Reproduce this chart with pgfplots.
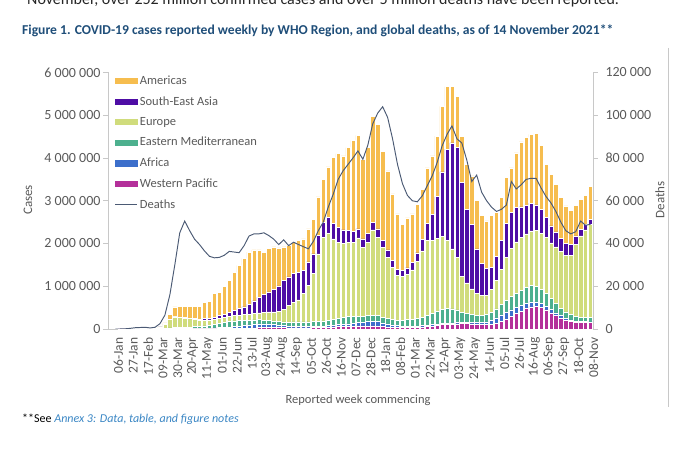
\documentclass[border=0pt]{standalone}
\usepackage{fontspec}
\setmainfont{Carlito}
\usepackage{pgfplots}
\pgfplotsset{compat=1.18}
\usepackage{pgfplotstable}
\definecolor{amr}{HTML}{F6BD4F}
\definecolor{sear}{HTML}{4E0DA5}
\definecolor{eur}{HTML}{D0DC7C}
\definecolor{emr}{HTML}{4DB08E}
\definecolor{afr}{HTML}{3C6FCB}
\definecolor{wpr}{HTML}{B4309A}
\definecolor{dth}{HTML}{4B5A74}
\definecolor{lblgray}{HTML}{595959}
\definecolor{axgray}{HTML}{C8C8C8}
\definecolor{ttlblue}{HTML}{1F4E79}
\definecolor{annexblue}{HTML}{3A86C4}

% weekly values in thousands (cases) and thousands (deaths); week 0 = 06-Jan-2020
\pgfplotstableread{
x wp afr emr eur sear amr deaths
0 0 0 0 0 0 0 0
1 0.05 0 0 0 0 0 0.01
2 2 0 0 0 0 0 0.1
3 14 0 0 0.02 0 0 0.3
4 22 0 0 0.03 0 0.01 0.6
5 25 0 0 0.01 0 0 0.7
6 8 0 0 0.02 0 0 0.8
7 6 0 0.3 0.3 0 0.02 0.5
8 6 0 2 3 0 0.3 0.8
9 6 0.1 6 40 0.1 5 2.5
10 8 0.5 7 95 1 30 6.5
11 10 1.5 14 200 2 120 16
12 12 3 20 250 4 230 30
13 11 4 22 235 6 245 45
14 9 5 27 215 10 255 50.5
15 7 6 32 195 13 270 46
16 5 8 40 170 18 290 42
17 5 10 45 145 25 300 39.5
18 5 13 55 135 32 390 36.5
19 5 17 70 120 42 395 34
20 5 20 85 120 50 550 33.3
21 6 25 100 115 65 540 33.5
22 7 30 115 115 80 650 34.5
23 8 38 130 120 95 750 36.3
24 9 45 135 125 120 895 36
25 12 55 130 130 150 1010 35.7
26 15 65 125 135 180 1130 39
27 20 75 115 140 230 1220 43.5
28 25 85 105 150 290 1195 44.5
29 30 90 100 160 360 1110 44.5
30 35 85 90 175 420 995 45
31 38 80 85 195 470 1012 43.7
32 38 70 80 215 530 987 42
33 35 60 80 235 600 890 39.5
34 30 50 85 295 680 780 41.7
35 28 45 90 387 670 730 39
36 27 40 100 453 680 730 40.6
37 26 35 105 514 650 740 39.5
38 25 30 110 665 540 740 38.5
39 28 30 110 852 550 770 37.5
40 30 30 110 1130 460 810 41
41 32 32 115 1581 430 900 46
42 35 35 120 1960 350 1000 50
43 40 38 130 2022 380 1180 57
44 50 40 140 1880 360 1540 63
45 60 45 150 1775 340 1730 70
46 65 50 165 1730 310 1730 74
47 65 55 170 1740 280 1930 77
48 70 65 160 1735 260 2120 80
49 75 75 150 1830 210 2190 83.3
50 75 85 140 1610 200 1860 79.4
51 70 100 140 1720 200 2020 86
52 75 110 140 1995 180 2480 96
53 70 105 135 1840 190 2440 101
54 55 90 130 1635 160 2090 104
55 45 75 125 1435 170 1850 99
56 35 60 125 1230 150 1560 89
57 30 50 130 1050 130 1300 77
58 30 40 140 1020 140 1070 68
59 32 35 150 1060 150 1173 62.5
60 35 32 165 1150 170 1138 60
61 40 30 180 1330 200 1140 59.5
62 50 30 200 1550 260 1180 62.3
63 60 30 220 1760 400 1300 67
64 70 30 260 1720 600 1370 71.6
65 85 30 300 1700 980 1415 77.8
66 100 28 330 1700 1520 1532 85.6
67 110 27 340 1600 2130 1463 91
68 115 27 330 1400 2480 1318 95
69 120 28 300 1220 2580 1192 89
70 125 30 230 850 2200 1070 87
71 125 32 200 720 1720 1053 79
72 120 35 185 600 1500 1140 69
73 110 40 175 500 1050 1125 72
74 100 50 165 470 750 1115 64
75 100 65 170 460 620 1115 60
76 110 90 190 540 520 1200 57
77 130 130 210 660 560 1040 55
78 170 160 240 820 680 1010 56
79 220 170 280 1000 800 1070 58
80 290 160 310 1120 850 1040 69
81 360 150 330 1200 800 1280 65.5
82 420 135 350 1230 720 1525 67.5
83 480 125 370 1250 670 1595 70
84 520 115 380 1280 650 1605 70.5
85 530 105 370 1300 600 1665 70.5
86 500 95 340 1310 560 1495 66
87 450 85 300 1300 480 1235 62
88 380 75 260 1300 400 1205 59
89 320 60 220 1320 350 1120 55
90 260 50 180 1330 300 960 50
91 210 40 150 1330 270 880 46
92 180 32 130 1380 260 798 44.5
93 160 26 115 1680 200 719 45.5
94 150 22 105 1900 150 713 50.5
95 150 20 100 2050 130 670 48.5
96 150 18 100 2180 120 762 49
}\data

\begin{document}
\begin{tikzpicture}[x=1pt,y=1pt]
\useasboundingbox (0,0) rectangle (680,465);
\node[anchor=base west, inner sep=0pt, font=\fontsize{16}{18}\selectfont, text=black!85] at (27,460) {November, over 252 million confirmed cases and over 5 million deaths have been reported.};
\node[anchor=base west, inner sep=0pt, font=\bfseries\fontsize{13.6}{16}\selectfont, text=ttlblue] at (22,430) {Figure 1. COVID-19 cases reported weekly by WHO Region, and global deaths, as of 14 November 2021**};
\draw[axgray, line width=0.6pt] (668,417) -- (668,58);

\begin{axis}[
  at={(108pt,136pt)}, anchor=south west, scale only axis,
  width=485pt, height=256.5pt,
  ybar stacked, bar width=4.3pt,
  xmin=-1.5, xmax=96.5, ymin=0, ymax=6000,
  axis y line*=left, axis x line*=bottom,
  axis line style={draw=axgray, line width=0.6pt},
  tick align=outside,
  major tick length=5pt,
  ytick={0,1000,2000,3000,4000,5000,6000},
  yticklabels={0,1 000 000,2 000 000,3 000 000,4 000 000,5 000 000,6 000 000},
  ytick style={draw=axgray, line width=0.6pt},
  yticklabel style={font=\fontsize{14}{16}\selectfont, text=lblgray, xshift=1pt},
  xtick={0,3,...,96},
  xticklabels={06-Jan,27-Jan,17-Feb,09-Mar,30-Mar,20-Apr,11-May,01-Jun,22-Jun,13-Jul,03-Aug,24-Aug,14-Sep,05-Oct,26-Oct,16-Nov,07-Dec,28-Dec,18-Jan,08-Feb,01-Mar,22-Mar,12-Apr,03-May,24-May,14-Jun,05-Jul,26-Jul,16-Aug,06-Sep,27-Sep,18-Oct,08-Nov},
  xtick style={draw=none},
  xticklabel style={rotate=90, anchor=east, font=\fontsize{13.5}{15}\selectfont, text=lblgray, yshift=-3pt},
  legend style={at={(rel axis cs:0.012,1.0)}, anchor=north west, draw=none, fill=none,
    font=\fontsize{12.5}{15}\selectfont, text=lblgray, row sep=6.6pt, inner sep=1pt},
  legend cell align=left,
  clip=false,
]
\addplot[fill=wpr, draw=white, line width=0.5pt, forget plot] table[x=x,y=wp]{\data};
\addplot[fill=afr, draw=white, line width=0.5pt, forget plot] table[x=x,y=afr]{\data};
\addplot[fill=emr, draw=white, line width=0.5pt, forget plot] table[x=x,y=emr]{\data};
\addplot[fill=eur, draw=white, line width=0.5pt, forget plot] table[x=x,y=eur]{\data};
\addplot[fill=sear, draw=white, line width=0.5pt, forget plot] table[x=x,y=sear]{\data};
\addplot[fill=amr, draw=white, line width=0.5pt, forget plot] table[x=x,y=amr]{\data};
\addlegendimage{legend image code/.code={\fill[amr] (0pt,-2.6pt) rectangle (22pt,2.6pt);}}
\addlegendentry{Americas}
\addlegendimage{legend image code/.code={\fill[sear] (0pt,-2.6pt) rectangle (22pt,2.6pt);}}
\addlegendentry{South-East Asia}
\addlegendimage{legend image code/.code={\fill[eur] (0pt,-2.6pt) rectangle (22pt,2.6pt);}}
\addlegendentry{Europe}
\addlegendimage{legend image code/.code={\fill[emr] (0pt,-2.6pt) rectangle (22pt,2.6pt);}}
\addlegendentry{Eastern Mediterranean}
\addlegendimage{legend image code/.code={\fill[afr] (0pt,-2.6pt) rectangle (22pt,2.6pt);}}
\addlegendentry{Africa}
\addlegendimage{legend image code/.code={\fill[wpr] (0pt,-2.6pt) rectangle (22pt,2.6pt);}}
\addlegendentry{Western Pacific}
\addlegendimage{legend image code/.code={\draw[dth, line width=0.9pt] (0pt,0pt) -- (22pt,0pt);}}
\addlegendentry{Deaths}
\end{axis}

\begin{axis}[
  at={(108pt,136pt)}, anchor=south west, scale only axis,
  width=485pt, height=256.5pt,
  xmin=-1.5, xmax=96.5, ymin=0, ymax=120,
  axis y line*=right, axis x line=none,
  axis line style={draw=axgray, line width=0.6pt},
  tick align=outside,
  major tick length=5pt,
  ytick={0,20,40,60,80,100,120},
  yticklabels={0,20 000,40 000,60 000,80 000,100 000,120 000},
  ytick style={draw=axgray, line width=0.6pt},
  yticklabel style={font=\fontsize{14}{16}\selectfont, text=lblgray, anchor=west, xshift=4pt},
]
\addplot[dth, line width=0.95pt, mark=none] table[x=x,y=deaths]{\data};
\end{axis}

\node[rotate=90, font=\fontsize{13}{15}\selectfont, text=lblgray] at (28,265) {Cases};
\node[rotate=90, font=\fontsize{13}{15}\selectfont, text=lblgray] at (660,265) {Deaths};
\node[font=\fontsize{12.5}{15}\selectfont, text=lblgray] at (358,65) {Reported week commencing};
\node[anchor=base west, inner sep=0pt, font=\fontsize{12}{14}\selectfont] at (22,42) {**See \textcolor{annexblue}{\itshape Annex 3: Data, table, and figure notes}};
\end{tikzpicture}
\end{document}
